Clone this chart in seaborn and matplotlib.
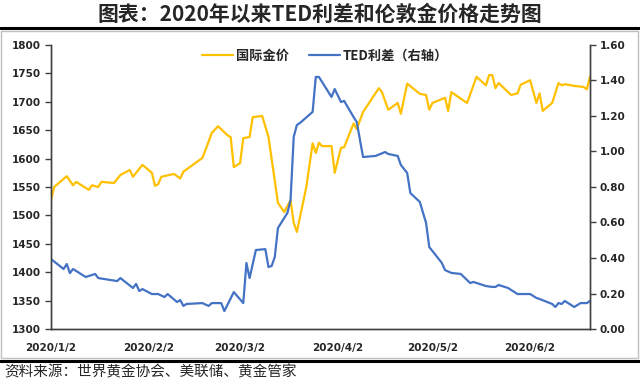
import pandas as pd
import numpy as np
import matplotlib
matplotlib.use("Agg")
import matplotlib.pyplot as plt
from matplotlib.lines import Line2D
from matplotlib.patches import Rectangle
import seaborn as sns

# 国际金价 (left axis)
gold_dates = [
    "2020-01-02", "2020-01-03", "2020-01-07", "2020-01-09", "2020-01-10", "2020-01-14",
    "2020-01-15", "2020-01-17", "2020-01-18", "2020-01-22", "2020-01-24", "2020-01-27",
    "2020-01-28", "2020-01-31", "2020-02-03", "2020-02-04", "2020-02-05", "2020-02-06",
    "2020-02-10", "2020-02-12", "2020-02-13", "2020-02-19", "2020-02-20", "2020-02-22",
    "2020-02-24", "2020-02-27", "2020-02-28", "2020-02-29", "2020-03-02", "2020-03-03",
    "2020-03-05", "2020-03-06", "2020-03-09", "2020-03-11", "2020-03-14", "2020-03-16",
    "2020-03-18", "2020-03-19", "2020-03-20", "2020-03-23", "2020-03-25", "2020-03-26",
    "2020-03-27", "2020-03-28", "2020-03-31", "2020-04-01", "2020-04-03", "2020-04-04",
    "2020-04-07", "2020-04-08", "2020-04-10", "2020-04-15", "2020-04-16", "2020-04-18",
    "2020-04-21", "2020-04-22", "2020-04-24", "2020-04-28", "2020-04-30", "2020-05-01",
    "2020-05-02", "2020-05-06", "2020-05-07", "2020-05-08", "2020-05-13", "2020-05-16",
    "2020-05-19", "2020-05-20", "2020-05-21", "2020-05-22", "2020-05-23", "2020-05-27",
    "2020-05-29", "2020-05-30", "2020-06-02", "2020-06-04", "2020-06-05", "2020-06-06",
    "2020-06-09", "2020-06-11", "2020-06-12", "2020-06-13", "2020-06-16", "2020-06-19",
    "2020-06-20", "2020-06-21",
]
gold_price = [
    1527, 1550, 1569, 1553, 1559, 1545,
    1553, 1550, 1559, 1557, 1571, 1580,
    1568, 1589, 1575, 1552, 1555, 1568,
    1573, 1565, 1577, 1601, 1615, 1645,
    1657, 1641, 1638, 1585, 1592, 1636,
    1638, 1673, 1675, 1638, 1522, 1506,
    1527, 1487, 1471, 1550, 1627, 1610,
    1628, 1622, 1622, 1575, 1619, 1620,
    1662, 1652, 1682, 1724, 1717, 1686,
    1698, 1679, 1732, 1714, 1712, 1686,
    1698, 1707, 1684, 1717, 1698, 1744,
    1729, 1747, 1747, 1724, 1733, 1712,
    1715, 1730, 1738, 1698, 1715, 1684,
    1698, 1733, 1729, 1731, 1728, 1726,
    1722, 1744,
]

# TED利差 (right axis)
ted_dates = [
    "2020-01-02", "2020-01-06", "2020-01-07", "2020-01-08", "2020-01-09", "2020-01-13",
    "2020-01-16", "2020-01-17", "2020-01-23", "2020-01-24", "2020-01-28", "2020-01-29",
    "2020-01-30", "2020-01-31", "2020-02-03", "2020-02-05", "2020-02-07", "2020-02-08",
    "2020-02-11", "2020-02-12", "2020-02-13", "2020-02-14", "2020-02-19", "2020-02-21",
    "2020-02-22", "2020-02-25", "2020-02-26", "2020-02-29", "2020-03-03", "2020-03-04",
    "2020-03-05", "2020-03-07", "2020-03-10", "2020-03-11", "2020-03-12", "2020-03-13",
    "2020-03-14", "2020-03-17", "2020-03-18", "2020-03-19", "2020-03-20", "2020-03-21",
    "2020-03-25", "2020-03-26", "2020-03-27", "2020-03-31", "2020-04-01", "2020-04-03",
    "2020-04-04", "2020-04-07", "2020-04-08", "2020-04-10", "2020-04-14", "2020-04-17",
    "2020-04-18", "2020-04-21", "2020-04-22", "2020-04-24", "2020-04-25", "2020-04-28",
    "2020-04-30", "2020-05-01", "2020-05-03", "2020-05-05", "2020-05-06", "2020-05-08",
    "2020-05-11", "2020-05-14", "2020-05-15", "2020-05-19", "2020-05-21", "2020-05-22",
    "2020-05-23", "2020-05-26", "2020-05-29", "2020-06-02", "2020-06-04", "2020-06-05",
    "2020-06-09", "2020-06-10", "2020-06-11", "2020-06-12", "2020-06-13", "2020-06-16",
    "2020-06-18", "2020-06-20", "2020-06-21",
]
ted_spread = [
    0.394, 0.338, 0.366, 0.315, 0.338, 0.293,
    0.310, 0.287, 0.270, 0.287, 0.231, 0.254,
    0.214, 0.225, 0.197, 0.197, 0.180, 0.197,
    0.152, 0.163, 0.130, 0.141, 0.146, 0.130,
    0.146, 0.146, 0.101, 0.208, 0.146, 0.372,
    0.287, 0.445, 0.450, 0.349, 0.355, 0.406,
    0.569, 0.654, 0.727, 1.082, 1.149, 1.161,
    1.223, 1.420, 1.420, 1.307, 1.352, 1.279,
    1.285, 1.194, 1.166, 0.969, 0.975, 0.997,
    0.986, 0.975, 0.924, 0.879, 0.766, 0.716,
    0.597, 0.462, 0.417, 0.372, 0.332, 0.316,
    0.310, 0.259, 0.265, 0.242, 0.237, 0.237,
    0.248, 0.231, 0.197, 0.197, 0.175, 0.169,
    0.141, 0.124, 0.146, 0.141, 0.158, 0.124,
    0.146, 0.146, 0.158,
]

tick_dates = ["2020-01-02", "2020-02-02", "2020-03-02", "2020-04-02", "2020-05-02", "2020-06-02"]
tick_labels = ["2020/1/2", "2020/2/2", "2020/3/2", "2020/4/2", "2020/5/2", "2020/6/2"]

gold = pd.DataFrame({"date": pd.to_datetime(gold_dates), "price": gold_price})
ted = pd.DataFrame({"date": pd.to_datetime(ted_dates), "ted": ted_spread})

sns.set_style("white")
plt.rcParams["font.family"] = ["Noto Sans CJK SC", "DejaVu Sans"]

YELLOW = "#FFC000"
BLUE = "#4472C4"

fig = plt.figure(figsize=(6.4, 3.83), dpi=100)
ax = fig.add_axes([51 / 640, 1 - 329 / 383, (590 - 51) / 640, (329 - 45) / 383])
ax2 = ax.twinx()

sns.lineplot(data=gold, x="date", y="price", ax=ax, color=YELLOW, linewidth=1.6, label="国际金价", legend=False)
sns.lineplot(data=ted, x="date", y="ted", ax=ax2, color=BLUE, linewidth=1.6, label="TED利差（右轴）", legend=False)

ax.set_ylim(1300, 1800)
ax.set_yticks(np.arange(1300, 1801, 50))
ax2.set_ylim(0, 1.6)
ax2.set_yticks(np.arange(0, 1.61, 0.2))
ax2.set_yticklabels([f"{v:.2f}" for v in np.arange(0, 1.61, 0.2)])
ax.set_xlim(pd.Timestamp("2020-01-02"), pd.Timestamp("2020-06-21"))
ax.set_xticks(pd.to_datetime(tick_dates))
ax.set_xticklabels(tick_labels)
ax.set_xlabel("")
ax.set_ylabel("")
ax2.set_ylabel("")

for a in (ax, ax2):
    a.spines["top"].set_visible(False)
    for s in ("left", "right", "bottom"):
        a.spines[s].set_color("#404040")
        a.spines[s].set_linewidth(1.0)
    a.tick_params(direction="out", length=4, width=1, color="#404040", labelsize=7.5, pad=3)
    for lab in a.get_xticklabels() + a.get_yticklabels():
        lab.set_fontweight("bold")
        lab.set_family(["DejaVu Sans"])
ax.tick_params(axis="x", pad=6)
ax.tick_params(axis="y", right=False)
ax2.tick_params(axis="y", left=False)

h1, l1 = ax.get_legend_handles_labels()
h2, l2 = ax2.get_legend_handles_labels()
fig.legend(h1 + h2, l1 + l2, loc="center", bbox_to_anchor=(325 / 640, 1 - 56 / 383), ncol=2,
           frameon=False, prop={"size": 9.5, "weight": "bold"}, handlelength=2.4,
           columnspacing=1.5, handletextpad=0.2)

# title, frame and footer
fig.text(0.5, 1 - 14 / 383, "图表：2020年以来TED利差和伦敦金价格走势图", ha="center", va="center",
         fontsize=15, fontweight="bold")
fig.add_artist(Line2D([0, 1], [1 - 28 / 383, 1 - 28 / 383], color="black", linewidth=2.2))
fig.add_artist(Rectangle((1 / 640, 1 - 358 / 383), 637 / 640, 327 / 383, fill=False,
                         edgecolor="#BFBFBF", linewidth=1))
fig.add_artist(Line2D([0, 1], [1 - 361 / 383, 1 - 361 / 383], color="black", linewidth=2.2))
fig.text(4 / 640, 1 - 372 / 383, "资料来源：世界黄金协会、美联储、黄金管家", ha="left", va="center",
         fontsize=10.5)

fig.savefig("out.png", dpi=100)
